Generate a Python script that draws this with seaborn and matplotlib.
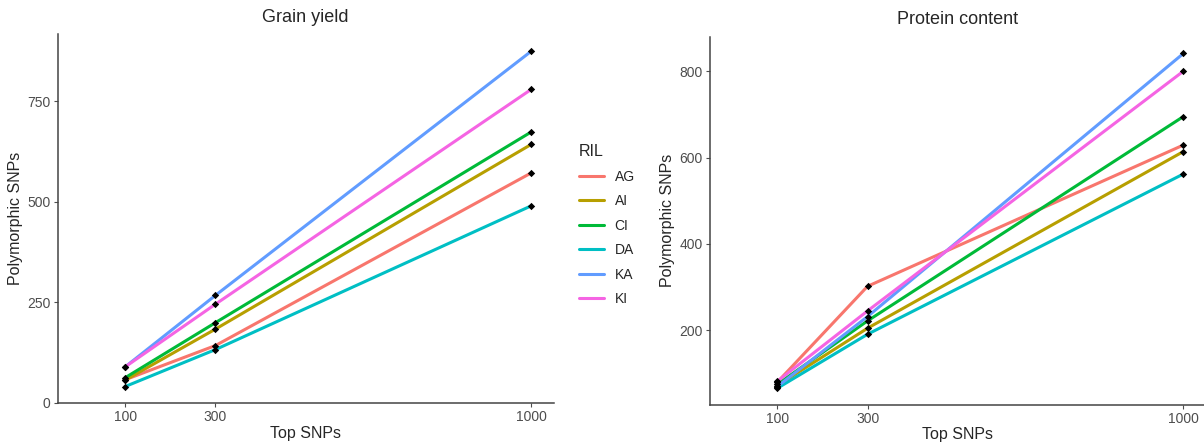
import pandas as pd
import seaborn as sns
import matplotlib.pyplot as plt

# values
top_snps = [100, 300, 1000]
ril_lines = ['AG', 'AI', 'CI', 'DA', 'KA', 'KI']

grain_AG = [57, 142, 572]
grain_AI = [56, 183, 643]
grain_CI = [62, 199, 674]
grain_DA = [40, 132, 490]
grain_KA = [89, 267, 875]
grain_KI = [89, 245, 780]

prot_AG = [80, 302, 629]
prot_AI = [72, 205, 614]
prot_CI = [75, 222, 695]
prot_DA = [66, 191, 562]
prot_KA = [70, 232, 841]
prot_KI = [82, 245, 800]

palette = {'AG': '#F8766D', 'AI': '#B79F00', 'CI': '#00BA38',
           'DA': '#00BFC4', 'KA': '#619CFF', 'KI': '#F564E3'}


def to_long(series):
    rows = []
    for ril, vals in zip(ril_lines, series):
        for x, y in zip(top_snps, vals):
            rows.append({'Top SNPs': x, 'Polymorphic SNPs': y, 'RIL': ril})
    return pd.DataFrame(rows)


df_grain = to_long([grain_AG, grain_AI, grain_CI, grain_DA, grain_KA, grain_KI])
df_prot = to_long([prot_AG, prot_AI, prot_CI, prot_DA, prot_KA, prot_KI])

sns.set_theme(style='ticks')
plt.rcParams['font.family'] = ['Liberation Sans', 'DejaVu Sans']

W, H = 1204, 446
fig = plt.figure(figsize=(W / 100, H / 100), dpi=100)
ax1 = fig.add_axes([57.5 / W, 1 - 403.3 / H, (554 - 57.5) / W, (403.3 - 34.3) / H])
ax2 = fig.add_axes([709.6 / W, 1 - 405 / H, (1206 - 709.6) / W, (405 - 36.7) / H])

for ax, df, title in [(ax1, df_grain, 'Grain yield'), (ax2, df_prot, 'Protein content')]:
    sns.lineplot(data=df, x='Top SNPs', y='Polymorphic SNPs', hue='RIL',
                 palette=palette, linewidth=2.2, legend=(ax is ax1), ax=ax)
    sns.scatterplot(data=df, x='Top SNPs', y='Polymorphic SNPs', color='black',
                    marker='D', s=14, linewidth=0, zorder=5, legend=False, ax=ax)
    ax.set_xlim(-50, 1050)
    ax.set_xticks(top_snps)
    ax.set_title(title, fontsize=13, pad=9)
    ax.set_xlabel('Top SNPs', fontsize=11.5, labelpad=1)
    ax.set_ylabel('Polymorphic SNPs', fontsize=11.5, labelpad=3)
    ax.tick_params(labelsize=10, colors='#4D4D4D', length=3, width=0.8, pad=2)
    for s in ['left', 'bottom']:
        ax.spines[s].set_color('#444444')
        ax.spines[s].set_linewidth(1.1)
    sns.despine(ax=ax)

ax1.set_yticks([0, 250, 500, 750])
ax2.set_yticks([200, 400, 600, 800])

handles, labels = ax1.get_legend_handles_labels()
ax1.get_legend().remove()
leg = fig.legend(handles, labels, title='RIL', loc='upper left',
                 bbox_to_anchor=(566 / W, 1 - 132 / H), frameon=False,
                 fontsize=10, title_fontsize=11.5, handlelength=1.8,
                 labelspacing=0.75, alignment='left')
for line in leg.get_lines():
    line.set_linewidth(2.2)

fig.savefig('out.png', dpi=100)
